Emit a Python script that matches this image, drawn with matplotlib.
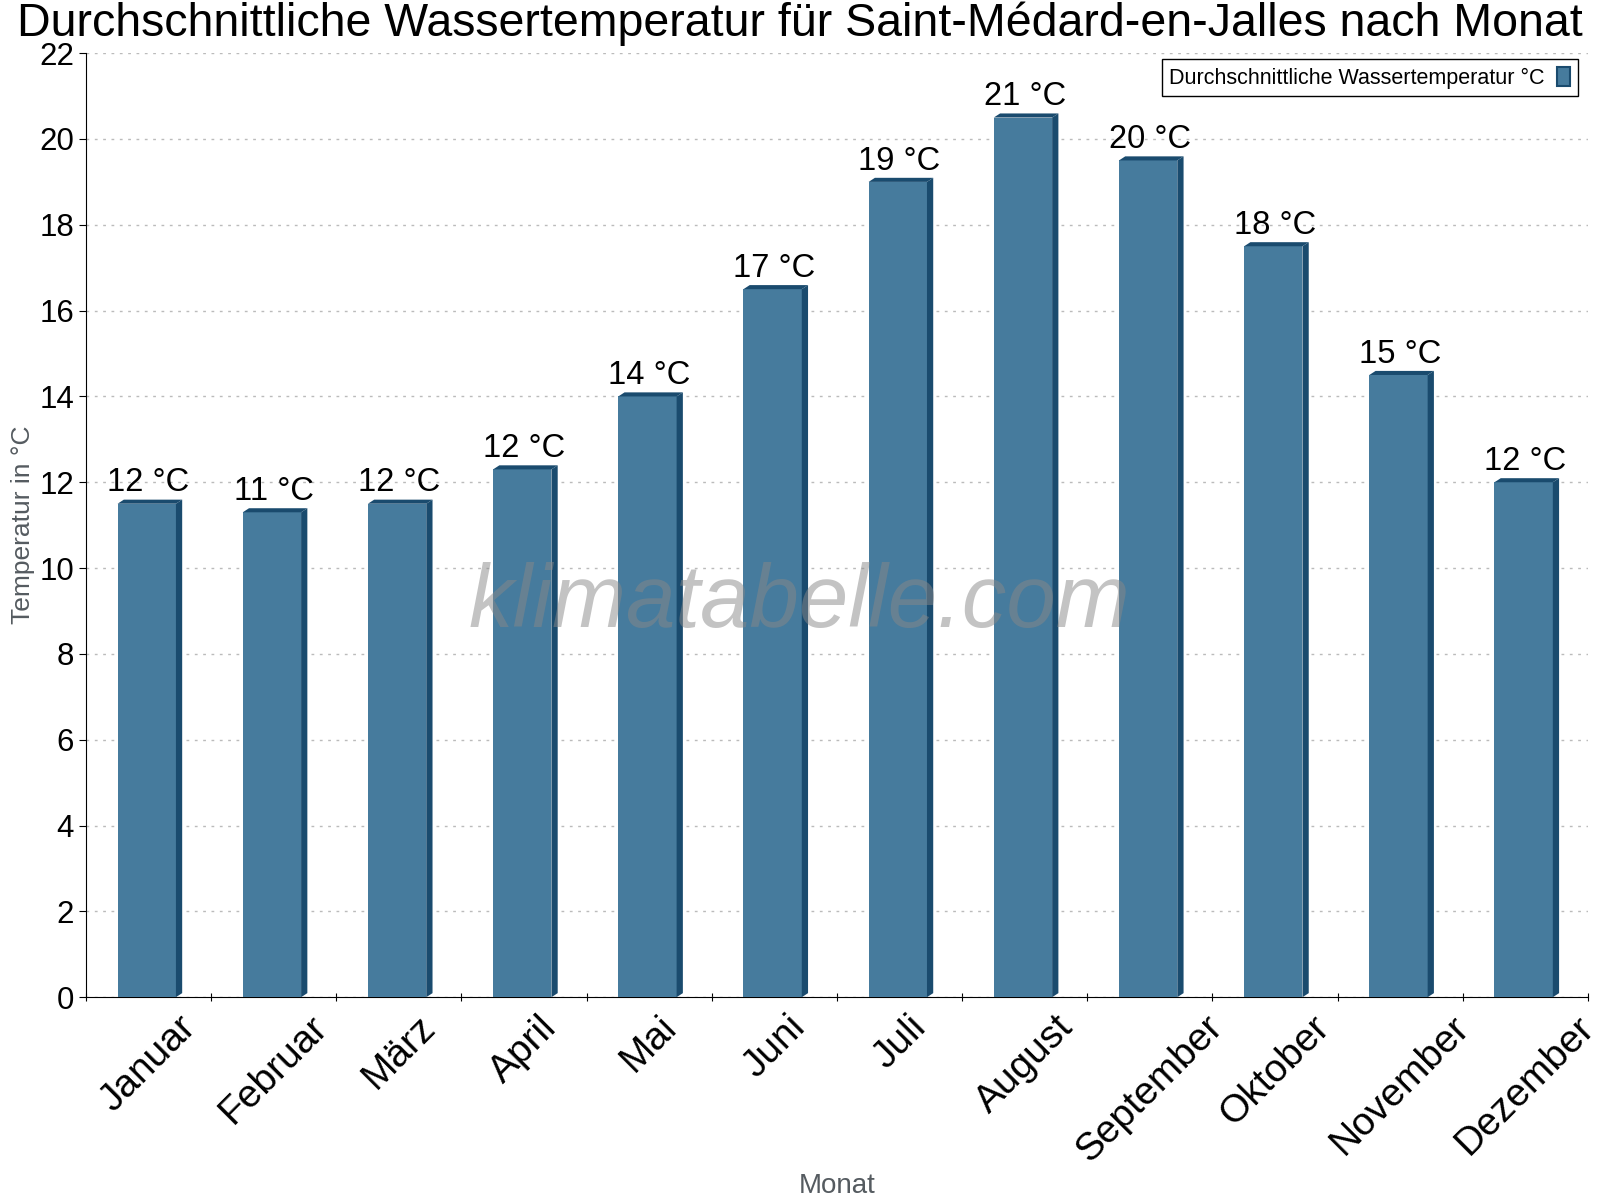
import matplotlib
matplotlib.use("Agg")
import matplotlib.pyplot as plt
from matplotlib.patches import Polygon, Patch

plt.rcParams['font.family'] = ['Liberation Sans', 'DejaVu Sans']

months = ["Januar", "Februar", "März", "April", "Mai", "Juni", "Juli",
          "August", "September", "Oktober", "November", "Dezember"]
temps = [11.5, 11.3, 11.5, 12.3, 14.0, 16.5, 19.0, 20.5, 19.5, 17.5, 14.5, 12.0]
labels = ["12 °C", "11 °C", "12 °C", "12 °C", "14 °C", "17 °C", "19 °C",
          "21 °C", "20 °C", "18 °C", "15 °C", "12 °C"]

front = "#467b9d"
dark = "#1a4b6e"

fig = plt.figure(figsize=(16, 12), dpi=100)
ax = fig.add_axes([0.0537, 0.169, 0.9388, 0.7867])

x = list(range(len(months)))
w = 0.466
off = -0.014
dx = 0.05
dy = 0.095

ax.bar([i + off for i in x], temps, width=w, color=front, zorder=3)
for i, v in zip(x, temps):
    xl = i + off - w / 2
    xr = i + off + w / 2
    ax.add_patch(Polygon([(xl, v), (xl + dx, v + dy), (xr + dx, v + dy), (xr, v)],
                         closed=True, facecolor=dark, edgecolor='none', zorder=3))
    ax.add_patch(Polygon([(xr, 0), (xr + dx, dy), (xr + dx, v + dy), (xr, v)],
                         closed=True, facecolor=dark, edgecolor='none', zorder=3))

for i, v, t in zip(x, temps, labels):
    ax.text(i, v + dy + 0.03, t, ha='center', va='bottom', fontsize=23.5, zorder=4)

ax.set_xlim(-0.5, 11.5)
ax.set_ylim(0, 22)
ax.set_yticks(range(0, 23, 2))
ax.tick_params(axis='y', labelsize=22.5, length=5)
ax.set_xticks([i + 0.5 for i in range(-1, 12)])
ax.set_xticklabels([])
ax.tick_params(axis='x', length=6, direction='inout')
# rotated month names: bounding box centred under the bar, top just below the axis
for i, m in enumerate(months):
    ax.text(i, -0.28, m, rotation=45, ha='center', va='top', fontsize=28)

ax.yaxis.grid(True, linestyle=(0, (2, 4)), color='#bbbbbb', linewidth=1, zorder=0)
ax.set_axisbelow(True)
for s in ['top', 'right']:
    ax.spines[s].set_visible(False)

ax.set_ylabel("Temperatur in °C", fontsize=19, color='#555b60')
ax.yaxis.set_label_coords(-0.034, 0.5)
ax.set_xlabel("Monat", fontsize=20, color='#555b60')
ax.xaxis.label.set_verticalalignment('baseline')
ax.xaxis.set_label_coords(0.5, -0.207)

fig.text(0.5, 0.97, "Durchschnittliche Wassertemperatur für Saint-Médard-en-Jalles nach Monat",
         fontsize=33.5, ha='center', va='baseline')

ax.text(0.475, 0.416, "klimatabelle.com", transform=ax.transAxes, fontsize=64,
        style='italic', color='#888888', alpha=0.5, ha='center', va='center', zorder=5)

handle = Patch(facecolor=front, edgecolor=dark, linewidth=1.5)
leg = ax.legend([handle], ["Durchschnittliche Wassertemperatur °C"], loc='upper right',
                markerfirst=False, fontsize=15.5, fancybox=False, framealpha=1,
                edgecolor='black', handlelength=0.6, handleheight=1.0,
                bbox_to_anchor=(0.9933, 0.9936), borderaxespad=0,
                borderpad=0.35, handletextpad=0.6)
leg.get_frame().set_linewidth(1)

fig.savefig("out.png", dpi=100)
